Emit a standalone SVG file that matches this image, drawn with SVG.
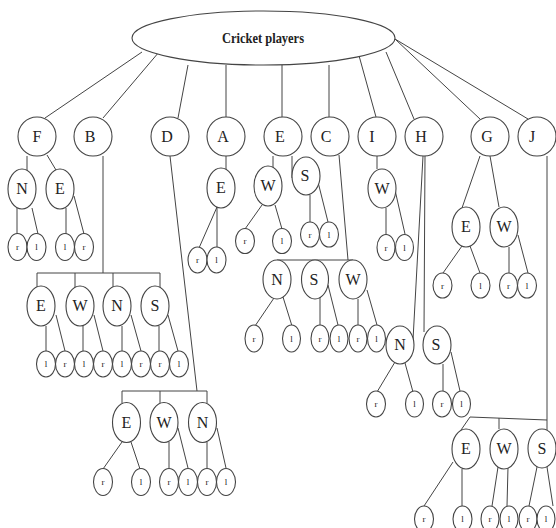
<svg xmlns="http://www.w3.org/2000/svg" width="556" height="528" viewBox="0 0 556 528" font-family="'Liberation Serif', 'Times New Roman', serif">
<style>
.n{fill:#fff;stroke:#444;stroke-width:1.1}
.c line,.c polyline{stroke:#444;stroke-width:1;fill:none}
text{font-family:'Liberation Serif','Times New Roman',serif;fill:#222;text-anchor:middle}
.t{font-size:16px}
.s{font-size:9px}
.h{font-size:15px;font-weight:bold}
</style>
<rect width="556" height="528" fill="#fff"/>
<g class="c" id="connectors">
<line x1="142" y1="52" x2="45" y2="118"/>
<line x1="159" y1="52" x2="103" y2="118"/>
<line x1="188" y1="65" x2="178" y2="118"/>
<line x1="226" y1="65" x2="226" y2="117"/>
<line x1="282" y1="65" x2="282" y2="117"/>
<line x1="329" y1="65" x2="329" y2="117"/>
<line x1="358" y1="52" x2="376" y2="117"/>
<line x1="386" y1="52" x2="414" y2="119"/>
<line x1="395" y1="39" x2="480" y2="119"/>
<line x1="395" y1="39" x2="528" y2="119"/>
<line x1="27" y1="156" x2="27" y2="170"/>
<line x1="47" y1="155" x2="56" y2="170"/>
<line x1="17" y1="208" x2="17" y2="234"/>
<line x1="32" y1="208" x2="38" y2="234"/>
<line x1="66" y1="208" x2="66" y2="234"/>
<line x1="74" y1="196" x2="84" y2="234"/>
<line x1="103" y1="156" x2="103" y2="273"/>
<polyline points="37,287 37,273 160,273 160,287"/>
<line x1="75" y1="273" x2="75" y2="287"/>
<line x1="113" y1="273" x2="113" y2="287"/>
<line x1="46" y1="326" x2="46" y2="351"/>
<line x1="56" y1="315" x2="65" y2="351"/>
<line x1="83" y1="326" x2="83" y2="351"/>
<line x1="94" y1="315" x2="103" y2="351"/>
<line x1="122" y1="326" x2="122" y2="351"/>
<line x1="131" y1="315" x2="141" y2="351"/>
<line x1="159" y1="326" x2="159" y2="351"/>
<line x1="168" y1="315" x2="178" y2="351"/>
<line x1="170" y1="156" x2="197" y2="391"/>
<polyline points="122,403 122,391 207,391 207,403"/>
<line x1="160" y1="391" x2="160" y2="403"/>
<line x1="122" y1="442" x2="103" y2="469"/>
<line x1="131" y1="442" x2="140" y2="469"/>
<line x1="169" y1="442" x2="169" y2="468"/>
<line x1="178" y1="428" x2="188" y2="468"/>
<line x1="207" y1="442" x2="207" y2="468"/>
<line x1="217" y1="428" x2="226" y2="468"/>
<line x1="226" y1="156" x2="226" y2="169"/>
<line x1="217" y1="207" x2="199" y2="248"/>
<line x1="217" y1="207" x2="217" y2="247"/>
<line x1="273" y1="156" x2="273" y2="167"/>
<line x1="292" y1="156" x2="292" y2="178"/>
<line x1="262" y1="205" x2="245" y2="229"/>
<line x1="275" y1="205" x2="282" y2="229"/>
<line x1="310" y1="195" x2="310" y2="222"/>
<line x1="318" y1="182" x2="328" y2="222"/>
<line x1="339" y1="155" x2="348" y2="260"/>
<line x1="277" y1="260" x2="353" y2="260"/>
<line x1="274" y1="298" x2="255" y2="326"/>
<line x1="283" y1="297" x2="292" y2="326"/>
<line x1="320" y1="297" x2="320" y2="325"/>
<line x1="328" y1="285" x2="338" y2="325"/>
<line x1="358" y1="299" x2="358" y2="325"/>
<line x1="367" y1="290" x2="377" y2="325"/>
<line x1="377" y1="156" x2="377" y2="169"/>
<line x1="386" y1="208" x2="386" y2="235"/>
<line x1="395" y1="190" x2="405" y2="234"/>
<line x1="423" y1="156" x2="413" y2="340"/>
<line x1="425" y1="156" x2="424" y2="332"/>
<line x1="395" y1="362" x2="377" y2="392"/>
<line x1="405" y1="363" x2="413" y2="392"/>
<line x1="443" y1="364" x2="443" y2="391"/>
<line x1="451" y1="352" x2="460" y2="391"/>
<line x1="480" y1="156" x2="462" y2="208"/>
<line x1="490" y1="156" x2="499" y2="207"/>
<line x1="462" y1="246" x2="443" y2="273"/>
<line x1="470" y1="246" x2="480" y2="273"/>
<line x1="509" y1="247" x2="509" y2="273"/>
<line x1="518" y1="235" x2="528" y2="273"/>
<line x1="547" y1="156" x2="547" y2="431"/>
<polyline points="461,430 470,417 547,420"/>
<line x1="499" y1="418" x2="499" y2="429"/>
<line x1="453" y1="462" x2="424" y2="506"/>
<line x1="462" y1="469" x2="462" y2="506"/>
<line x1="498" y1="467" x2="492" y2="506"/>
<line x1="508" y1="467" x2="507" y2="506"/>
<line x1="537" y1="467" x2="529" y2="506"/>
<line x1="547" y1="467" x2="553" y2="506"/>
</g>
<g id="root"><ellipse class="n" cx="263.5" cy="38" rx="131.5" ry="27"/><text class="h" x="263" y="43" textLength="82" lengthAdjust="spacingAndGlyphs">Cricket players</text></g>
<g id="F"><ellipse class="n" cx="37" cy="136.5" rx="19" ry="19.5"/><text class="t" x="37" y="142">F</text></g>
<g id="B"><ellipse class="n" cx="93" cy="136.5" rx="19" ry="19.5"/><text class="t" x="90" y="142">B</text></g>
<g id="D"><ellipse class="n" cx="170" cy="136.5" rx="19" ry="19.5"/><text class="t" x="167" y="142">D</text></g>
<g id="A"><ellipse class="n" cx="226" cy="136.5" rx="19" ry="19.5"/><text class="t" x="223" y="142">A</text></g>
<g id="E"><ellipse class="n" cx="283" cy="136.5" rx="19" ry="19.5"/><text class="t" x="280" y="142">E</text></g>
<g id="C"><ellipse class="n" cx="330" cy="136.5" rx="19" ry="19.5"/><text class="t" x="326" y="142">C</text></g>
<g id="I"><ellipse class="n" cx="377" cy="136.5" rx="19" ry="19.5"/><text class="t" x="372" y="142">I</text></g>
<g id="H"><ellipse class="n" cx="424" cy="136.5" rx="19" ry="19.5"/><text class="t" x="421" y="142">H</text></g>
<g id="G"><ellipse class="n" cx="490" cy="136.5" rx="19" ry="19.5"/><text class="t" x="487" y="142">G</text></g>
<g id="J"><ellipse class="n" cx="537" cy="136.5" rx="19" ry="19.5"/><text class="t" x="532" y="142">J</text></g>
<g id="F-N"><ellipse class="n" cx="22" cy="189" rx="14" ry="20"/><text class="t" x="22" y="194">N</text></g>
<g id="F-E"><ellipse class="n" cx="60" cy="189" rx="14" ry="20"/><text class="t" x="60" y="194">E</text></g>
<g id="F-N-r"><ellipse class="n" cx="17.5" cy="247" rx="9.5" ry="13.5"/><text class="s" x="17.5" y="250">r</text></g>
<g id="F-N-l"><ellipse class="n" cx="36.5" cy="247" rx="9.5" ry="13.5"/><text class="s" x="36.5" y="250">l</text></g>
<g id="F-E-l"><ellipse class="n" cx="65" cy="247" rx="9.5" ry="13.5"/><text class="s" x="65" y="250">l</text></g>
<g id="F-E-r"><ellipse class="n" cx="84" cy="247" rx="9.5" ry="13.5"/><text class="s" x="84" y="250">r</text></g>
<g id="B-E"><ellipse class="n" cx="41" cy="306" rx="14" ry="20"/><text class="t" x="41" y="311">E</text></g>
<g id="B-W"><ellipse class="n" cx="80" cy="306" rx="14" ry="20"/><text class="t" x="80" y="311">W</text></g>
<g id="B-N"><ellipse class="n" cx="117" cy="306" rx="14" ry="20"/><text class="t" x="117" y="311">N</text></g>
<g id="B-S"><ellipse class="n" cx="155" cy="306" rx="14" ry="20"/><text class="t" x="155" y="311">S</text></g>
<g id="B-E-l"><ellipse class="n" cx="46" cy="364" rx="9.5" ry="13"/><text class="s" x="46" y="367">l</text></g>
<g id="B-E-r"><ellipse class="n" cx="65" cy="364" rx="9.5" ry="13"/><text class="s" x="65" y="367">r</text></g>
<g id="B-W-l"><ellipse class="n" cx="84" cy="364" rx="9.5" ry="13"/><text class="s" x="84" y="367">l</text></g>
<g id="B-W-r"><ellipse class="n" cx="103" cy="364" rx="9.5" ry="13"/><text class="s" x="103" y="367">r</text></g>
<g id="B-N-l"><ellipse class="n" cx="122" cy="364" rx="9.5" ry="13"/><text class="s" x="122" y="367">l</text></g>
<g id="B-N-r"><ellipse class="n" cx="141" cy="364" rx="9.5" ry="13"/><text class="s" x="141" y="367">r</text></g>
<g id="B-S-r"><ellipse class="n" cx="160" cy="364" rx="9.5" ry="13"/><text class="s" x="160" y="367">r</text></g>
<g id="B-S-l"><ellipse class="n" cx="179" cy="364" rx="9.5" ry="13"/><text class="s" x="179" y="367">l</text></g>
<g id="D-E"><ellipse class="n" cx="126.5" cy="422.5" rx="14" ry="20"/><text class="t" x="126.5" y="428">E</text></g>
<g id="D-W"><ellipse class="n" cx="164" cy="422.5" rx="14" ry="20"/><text class="t" x="164" y="428">W</text></g>
<g id="D-N"><ellipse class="n" cx="202.5" cy="422.5" rx="14" ry="20"/><text class="t" x="202.5" y="428">N</text></g>
<g id="D-E-r"><ellipse class="n" cx="103" cy="482" rx="9.5" ry="13.5"/><text class="s" x="103" y="485">r</text></g>
<g id="D-E-l"><ellipse class="n" cx="141" cy="482" rx="9.5" ry="13.5"/><text class="s" x="141" y="485">l</text></g>
<g id="D-W-r"><ellipse class="n" cx="169" cy="482" rx="9.5" ry="13.5"/><text class="s" x="169" y="485">r</text></g>
<g id="D-W-l"><ellipse class="n" cx="188" cy="482" rx="9.5" ry="13.5"/><text class="s" x="188" y="485">l</text></g>
<g id="D-N-r"><ellipse class="n" cx="207" cy="482" rx="9.5" ry="13.5"/><text class="s" x="207" y="485">r</text></g>
<g id="D-N-l"><ellipse class="n" cx="226" cy="482" rx="9.5" ry="13.5"/><text class="s" x="226" y="485">l</text></g>
<g id="A-E"><ellipse class="n" cx="221" cy="188" rx="14" ry="20"/><text class="t" x="221" y="193">E</text></g>
<g id="A-E-r"><ellipse class="n" cx="197.5" cy="260" rx="9.5" ry="13"/><text class="s" x="197.5" y="263">r</text></g>
<g id="A-E-l"><ellipse class="n" cx="216.5" cy="260" rx="9.5" ry="13"/><text class="s" x="216.5" y="263">l</text></g>
<g id="E-W"><ellipse class="n" cx="268" cy="186" rx="14" ry="20"/><text class="t" x="268" y="191">W</text></g>
<g id="E-S"><ellipse class="n" cx="306" cy="176" rx="14" ry="19"/><text class="t" x="305" y="181">S</text></g>
<g id="E-W-r"><ellipse class="n" cx="245" cy="241" rx="9.5" ry="12.5"/><text class="s" x="245" y="244">r</text></g>
<g id="E-W-l"><ellipse class="n" cx="282" cy="241" rx="9.5" ry="12.5"/><text class="s" x="282" y="244">l</text></g>
<g id="E-S-r"><ellipse class="n" cx="310" cy="234.5" rx="9.5" ry="12.5"/><text class="s" x="310" y="237.5">r</text></g>
<g id="E-S-l"><ellipse class="n" cx="329" cy="234.5" rx="9.5" ry="12.5"/><text class="s" x="329" y="237.5">l</text></g>
<g id="C-N"><ellipse class="n" cx="277" cy="279.5" rx="14" ry="19.5"/><text class="t" x="277" y="285">N</text></g>
<g id="C-S"><ellipse class="n" cx="315" cy="279.5" rx="13.5" ry="19.5"/><text class="t" x="314" y="285">S</text></g>
<g id="C-W"><ellipse class="n" cx="353" cy="279.5" rx="14" ry="19.5"/><text class="t" x="353" y="285">W</text></g>
<g id="C-N-r"><ellipse class="n" cx="254" cy="338.5" rx="9" ry="13.5"/><text class="s" x="254" y="341.5">r</text></g>
<g id="C-N-l"><ellipse class="n" cx="291.5" cy="338.5" rx="9" ry="13.5"/><text class="s" x="291.5" y="341.5">l</text></g>
<g id="C-S-r"><ellipse class="n" cx="320" cy="338.5" rx="9" ry="13.5"/><text class="s" x="320" y="341.5">r</text></g>
<g id="C-S-l"><ellipse class="n" cx="339" cy="338.5" rx="9" ry="13.5"/><text class="s" x="339" y="341.5">l</text></g>
<g id="C-W-r"><ellipse class="n" cx="358" cy="338.5" rx="9" ry="13.5"/><text class="s" x="358" y="341.5">r</text></g>
<g id="C-W-l"><ellipse class="n" cx="376.5" cy="338.5" rx="9" ry="13.5"/><text class="s" x="376.5" y="341.5">l</text></g>
<g id="I-W"><ellipse class="n" cx="382" cy="188.5" rx="14" ry="19.5"/><text class="t" x="382" y="194">W</text></g>
<g id="I-W-r"><ellipse class="n" cx="386" cy="247.5" rx="9" ry="13"/><text class="s" x="386" y="250.5">r</text></g>
<g id="I-W-l"><ellipse class="n" cx="404.5" cy="247.5" rx="9" ry="13"/><text class="s" x="404.5" y="250.5">l</text></g>
<g id="H-N"><ellipse class="n" cx="400" cy="345" rx="14" ry="19"/><text class="t" x="400" y="350">N</text></g>
<g id="H-S"><ellipse class="n" cx="437" cy="345" rx="14" ry="19"/><text class="t" x="436" y="350">S</text></g>
<g id="H-N-r"><ellipse class="n" cx="376" cy="404" rx="9.5" ry="13"/><text class="s" x="376" y="407">r</text></g>
<g id="H-N-l"><ellipse class="n" cx="414.5" cy="404" rx="9" ry="13"/><text class="s" x="414.5" y="407">l</text></g>
<g id="H-S-r"><ellipse class="n" cx="442" cy="404" rx="9.5" ry="13"/><text class="s" x="442" y="407">r</text></g>
<g id="H-S-l"><ellipse class="n" cx="461.5" cy="404" rx="9" ry="13"/><text class="s" x="461.5" y="407">l</text></g>
<g id="G-E"><ellipse class="n" cx="466" cy="227" rx="14" ry="20"/><text class="t" x="466" y="232">E</text></g>
<g id="G-W"><ellipse class="n" cx="504" cy="227" rx="14" ry="20"/><text class="t" x="504" y="232">W</text></g>
<g id="G-E-r"><ellipse class="n" cx="442.5" cy="285.5" rx="9.5" ry="12.5"/><text class="s" x="442.5" y="288.5">r</text></g>
<g id="G-E-l"><ellipse class="n" cx="480.5" cy="285.5" rx="9.5" ry="12.5"/><text class="s" x="480.5" y="288.5">l</text></g>
<g id="G-W-r"><ellipse class="n" cx="508.5" cy="285.5" rx="9" ry="12.5"/><text class="s" x="508.5" y="288.5">r</text></g>
<g id="G-W-l"><ellipse class="n" cx="527" cy="285.5" rx="9.5" ry="12.5"/><text class="s" x="527" y="288.5">l</text></g>
<g id="J-E"><ellipse class="n" cx="466" cy="449" rx="14" ry="20"/><text class="t" x="466" y="454">E</text></g>
<g id="J-W"><ellipse class="n" cx="504" cy="449" rx="14" ry="20"/><text class="t" x="504" y="454">W</text></g>
<g id="J-S"><ellipse class="n" cx="542" cy="448.5" rx="14" ry="19.5"/><text class="t" x="542" y="454">S</text></g>
<g id="J-E-r"><ellipse class="n" cx="424" cy="519" rx="9.5" ry="13"/><text class="s" x="424" y="522">r</text></g>
<g id="J-E-l"><ellipse class="n" cx="462.5" cy="519" rx="9.5" ry="13"/><text class="s" x="462.5" y="522">l</text></g>
<g id="J-W-r"><ellipse class="n" cx="490" cy="519" rx="9" ry="13"/><text class="s" x="490" y="522">r</text></g>
<g id="J-W-l"><ellipse class="n" cx="509" cy="519" rx="9" ry="13"/><text class="s" x="509" y="522">l</text></g>
<g id="J-S-r"><ellipse class="n" cx="528" cy="519" rx="9" ry="13"/><text class="s" x="528" y="522">r</text></g>
<g id="J-S-l"><ellipse class="n" cx="546" cy="519" rx="9" ry="13"/><text class="s" x="546" y="522">l</text></g>
</svg>
